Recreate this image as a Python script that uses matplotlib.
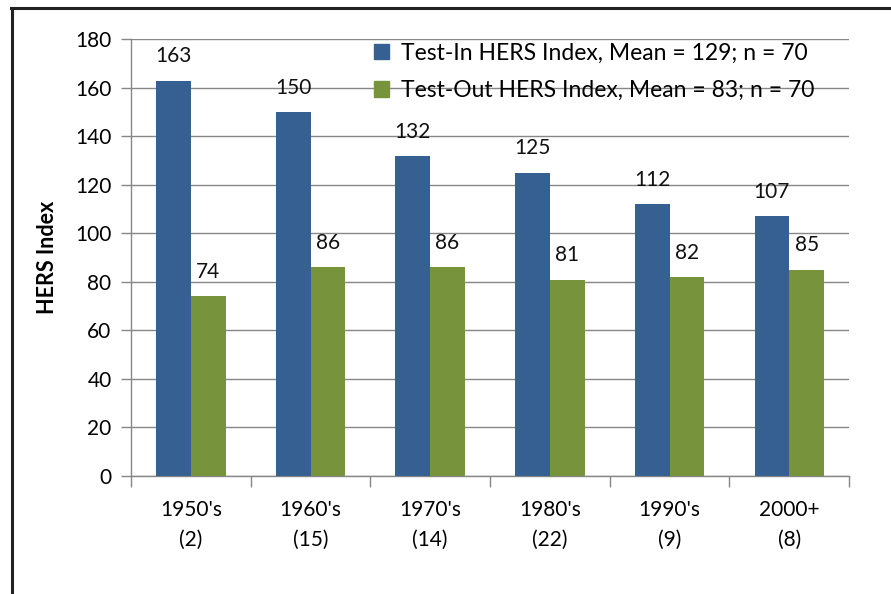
import numpy as np
import matplotlib.pyplot as plt
from matplotlib.lines import Line2D
from matplotlib.patches import Patch

# data
decades = ["1950's\n(2)", "1960's\n(15)", "1970's\n(14)", "1980's\n(22)", "1990's\n(9)", "2000+\n(8)"]
test_in = [163, 150, 132, 125, 112, 107]
test_out = [74, 86, 86, 81, 82, 85]
in_label = 'Test-In HERS Index, Mean = 129; n = 70'
out_label = 'Test-Out HERS Index, Mean = 83; n = 70'

blue = '#376092'
green = '#77933C'
grid_c = '#878787'

plt.rcParams['font.family'] = ['Lato', 'DejaVu Sans']

fig = plt.figure(figsize=(8.91, 5.94), dpi=100)
ax = fig.add_axes([0.147, 0.1987, 0.806, 0.735])

x = np.arange(len(decades))
w = 0.29
b1 = ax.bar(x - w / 2, test_in, w, color=blue, zorder=3)
b2 = ax.bar(x + w / 2, test_out, w, color=green, zorder=3)

for bars in (b1, b2):
    for r in bars:
        ax.annotate(f'{r.get_height():.0f}', (r.get_x() + r.get_width() / 2, r.get_height()),
                    xytext=(0, 17.5), textcoords='offset points', ha='center', va='center',
                    fontsize=15, color='#111111')

ax.set_ylim(0, 180)
ax.set_yticks(range(0, 181, 20))
ax.set_xlim(-0.5, len(decades) - 0.5)
ax.set_xticks(x)
ax.set_xticklabels(decades, fontsize=15, linespacing=1.65)
ax.set_xticks(np.arange(-0.5, len(decades)), minor=True)
ax.tick_params(axis='x', which='major', length=0, pad=17)
ax.tick_params(axis='x', which='minor', length=8, color=grid_c, width=1)
ax.tick_params(axis='y', labelsize=15, length=7, color=grid_c, width=1, pad=7)
ax.yaxis.grid(True, color=grid_c, linewidth=1, zorder=0)
ax.set_axisbelow(True)
for s in ('top', 'right'):
    ax.spines[s].set_visible(False)
for s in ('left', 'bottom'):
    ax.spines[s].set_color(grid_c)
    ax.spines[s].set_linewidth(1)

ax.set_ylabel('HERS Index', fontsize=15.5, fontweight='bold', labelpad=12)

handles = [Patch(color=blue), Patch(color=green)]
fig.legend(handles, [in_label, out_label], loc='upper left', bbox_to_anchor=(0.41, 0.944),
           frameon=False, fontsize=16.5, handlelength=0.65, handleheight=0.65,
           handletextpad=0.5, labelspacing=0.72, borderaxespad=0)

# outer frame (left and top edges)
fig.add_artist(Line2D([0.0135, 0.0135], [0, 0.986], color='#222222', linewidth=2.2))
fig.add_artist(Line2D([0.0125, 1.0], [0.986, 0.986], color='#222222', linewidth=2.2))

fig.savefig('out.png', dpi=100)
